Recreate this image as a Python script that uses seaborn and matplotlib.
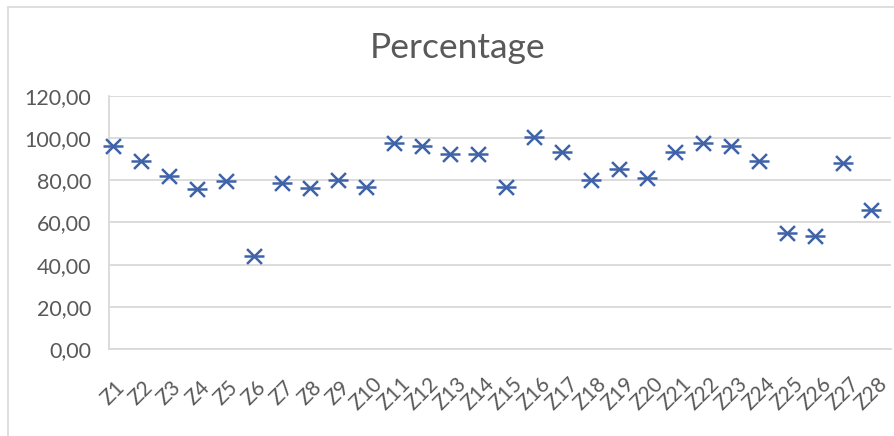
import matplotlib
matplotlib.use("Agg")
import matplotlib.pyplot as plt
from matplotlib.lines import Line2D
import seaborn as sns
import pandas as pd

# Zones and their percentage
zones = [f"Z{i}" for i in range(1, 29)]
percentage = [96.3, 89.2, 82.2, 75.8, 79.8, 44.1, 78.8, 76.2, 80.1, 76.9,
              97.8, 96.4, 92.4, 92.4, 76.9, 100.6, 93.5, 80.1, 85.4, 81.1,
              93.5, 97.7, 96.3, 89.2, 55.0, 53.6, 88.0, 66.0]
y_ticks = [0, 20, 40, 60, 80, 100, 120]
y_tick_labels = ["0,00", "20,00", "40,00", "60,00", "80,00", "100,00", "120,00"]
title = "Percentage"

df = pd.DataFrame({"zone": zones, "pct": percentage})

sns.set_theme(style="white")
plt.rcParams["font.family"] = ["Lato", "DejaVu Sans"]

W, H = 895, 436
fig = plt.figure(figsize=(W / 100, H / 100), dpi=100)
ax = fig.add_axes([109 / W, (H - 349) / H, (891 - 109) / W, (349 - 96) / H])

blue = "#3F63A8"
grid = "#D9D9D9"
text_gray = "#595959"

# star-like marker: an x crossed by a horizontal bar
sns.scatterplot(data=df, x="zone", y="pct", marker="x", s=115, color=blue,
                linewidth=1.8, ax=ax, clip_on=False, zorder=3)
sns.scatterplot(data=df, x="zone", y="pct", marker="_", s=210, color=blue,
                linewidth=1.8, ax=ax, clip_on=False, zorder=3)

ax.set_xlim(-0.15, 27.7)
ax.set_ylim(0, 120)
ax.set_yticks(y_ticks)
ax.set_yticklabels(y_tick_labels)
ax.set_xlabel("")
ax.set_ylabel("")

ax.grid(axis="y", color=grid, linewidth=1.3)
ax.grid(axis="x", visible=False)
ax.set_axisbelow(True)
for side in ["top", "right"]:
    ax.spines[side].set_visible(False)
for side in ["left", "bottom"]:
    ax.spines[side].set_color(grid)
    ax.spines[side].set_linewidth(1.3)

ax.tick_params(axis="y", length=0, pad=13, labelsize=15.5, labelcolor=text_gray)
ax.tick_params(axis="x", length=0, pad=32, labelsize=15, labelcolor=text_gray)
for lab in ax.get_xticklabels():
    lab.set_rotation(45)
    lab.set_ha("center")
    lab.set_va("center")

fig.text(458 / W, (H - 58) / H, title, ha="center", va="baseline",
         fontsize=25.5, color=text_gray)

# chart-area frame
fig.add_artist(Line2D([8 / W, 8 / W], [0, (H - 7) / H], color=grid,
                      linewidth=1.2, transform=fig.transFigure))
fig.add_artist(Line2D([8 / W, 1], [(H - 7) / H, (H - 7) / H], color=grid,
                      linewidth=1.2, transform=fig.transFigure))

fig.savefig("out.png", dpi=100, facecolor="white")
